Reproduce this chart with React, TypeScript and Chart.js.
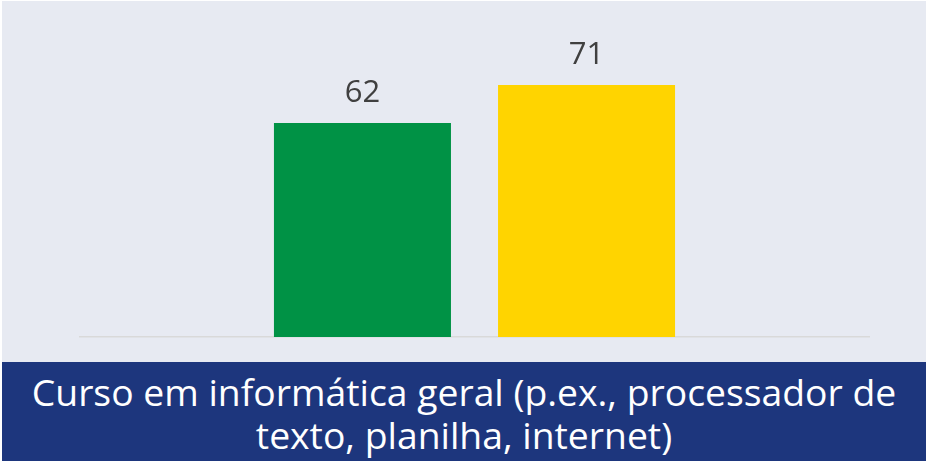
import React, { useEffect, useRef } from "react";
import { Chart, registerables } from "chart.js";

Chart.register(...registerables);

const categories = ["Curso em informática geral (p.ex., processador de texto, planilha, internet)"];
const seriesNames = ["Série 1", "Série 2"];
const seriesA = [62];
const seriesB = [71];
const seriesColors = ["#009245", "#FFD400"];
const yMin = 11.3;
const yMax = 91.1;

const valueLabels = {
  id: "valueLabels",
  afterDatasetsDraw(chart: any) {
    const ctx = chart.ctx;
    ctx.save();
    ctx.font = "31px 'Open Sans'";
    ctx.fillStyle = "#404040";
    ctx.textAlign = "center";
    ctx.textBaseline = "alphabetic";
    chart.data.datasets.forEach((ds: any, i: number) => {
      const meta = chart.getDatasetMeta(i);
      meta.data.forEach((el: any, j: number) => {
        ctx.fillText(String(ds.data[j]), el.x, el.y - 21);
      });
    });
    ctx.restore();
  },
};

export default function App() {
  const ref = useRef<HTMLCanvasElement | null>(null);
  useEffect(() => {
    if (!ref.current) return;
    const chart = new Chart(ref.current, {
      type: "bar",
      data: {
        labels: categories,
        datasets: [
          { label: seriesNames[0], data: seriesA, backgroundColor: seriesColors[0] },
          { label: seriesNames[1], data: seriesB, backgroundColor: seriesColors[1] },
        ],
      },
      options: {
        responsive: false,
        animation: false,
        layout: { padding: { left: 80, right: 58, top: 0, bottom: 124 } },
        datasets: { bar: { categoryPercentage: 0.568, barPercentage: 0.79 } },
        plugins: { legend: { display: false }, tooltip: { enabled: false } },
        scales: {
          x: {
            display: true,
            ticks: { display: false },
            grid: { display: false, drawTicks: false },
            border: { display: true, color: "#D9D9D9", width: 1.5 },
          },
          y: { display: false, min: yMin, max: yMax },
        },
      },
      plugins: [valueLabels],
    });
    return () => chart.destroy();
  }, []);

  return (
    <div style={{ position: "absolute", left: 0, top: 0, width: 927, height: 461, background: "#FFFFFF", overflow: "hidden" }}>
      <div style={{ position: "absolute", left: 2, top: 1, width: 924, height: 460, background: "#E7EAF2" }} />
      <canvas ref={ref} width={927} height={461} style={{ position: "absolute", left: 0, top: 0 }} />
      <div
        style={{
          position: "absolute",
          left: 2,
          top: 362,
          width: 924,
          height: 99,
          background: "#1D367D",
          color: "#FFFFFF",
          fontFamily: "'Open Sans'",
          fontSize: 37.3,
          lineHeight: "43px",
          textAlign: "center",
          paddingTop: 8,
          boxSizing: "border-box",
          whiteSpace: "nowrap",
        }}
      >
        Curso em informática geral (p.ex., processador de
        <br />
        texto, planilha, internet)
      </div>
    </div>
  );
}
